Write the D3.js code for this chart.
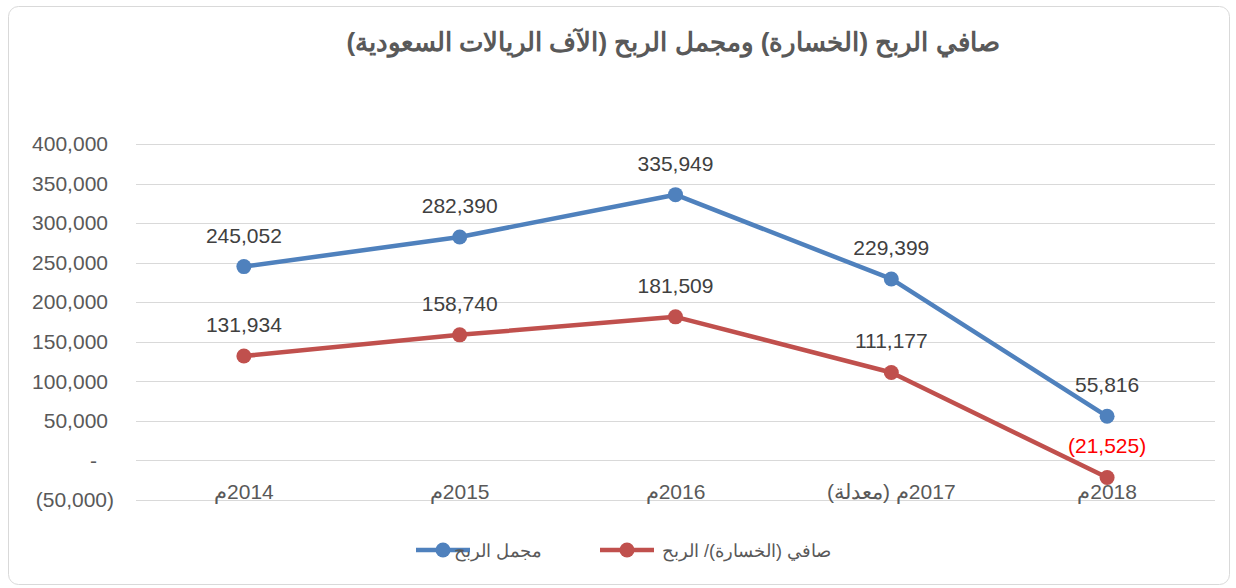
<!DOCTYPE html>
<html>
<head>
<meta charset="utf-8">
<script src="https://cdn.jsdelivr.net/npm/d3@7"></script>
<style>
  body { margin: 0; background: #fff; }
  svg { display: block; font-family: "Liberation Sans", Arial, sans-serif; }
</style>
</head>
<body>
<div id="chart"></div>
<script>
// chart data
const years = ['2014م', '2015م', '2016م', '2017م (معدلة)', '2018م'];
const grossProfit = [245052, 282390, 335949, 229399, 55816];
const netProfit = [131934, 158740, 181509, 111177, -21525];
const yTicks = [-50000, 0, 50000, 100000, 150000, 200000, 250000, 300000, 350000, 400000];
const seriesNames = ['مجمل الربح', 'صافي (الخسارة)/ الربح'];
const chartTitle = 'صافي الربح (الخسارة) ومجمل الربح (الآف الريالات السعودية)';

const W = 1236, H = 588;
const margin = { top: 144, right: 21, bottom: 88, left: 136 };
const colors = ['#4f81bd', '#c0504d'];

const svg = d3.select('#chart').append('svg')
  .attr('width', W)
  .attr('height', H);

// outer chart frame
svg.append('rect')
  .attr('x', 8.5).attr('y', 6.5)
  .attr('width', 1221).attr('height', 578)
  .attr('rx', 10)
  .attr('fill', '#fff')
  .attr('stroke', '#d9d9d9');

svg.append('text')
  .attr('x', 673).attr('y', 51)
  .attr('text-anchor', 'middle')
  .attr('direction', 'rtl')
  .style('font-size', '26px')
  .style('font-weight', 'bold')
  .attr('fill', '#595959')
  .text(chartTitle);

const x = d3.scalePoint()
  .domain(years)
  .range([margin.left, W - margin.right])
  .padding(0.5);

const y = d3.scaleLinear()
  .domain([-50000, 400000])
  .range([H - margin.bottom, margin.top]);

// accounting-style number format
const fmt = d3.format(',');
const acct = v => v === 0 ? '-' : (v < 0 ? `(${fmt(-v)})` : fmt(v));

// gridlines
svg.append('g').selectAll('line')
  .data(yTicks)
  .join('line')
    .attr('x1', margin.left).attr('x2', W - margin.right)
    .attr('y1', d => Math.round(y(d)) + 0.5)
    .attr('y2', d => Math.round(y(d)) + 0.5)
    .attr('stroke', '#d9d9d9')
    .attr('stroke-width', 1);

// y axis labels
const yAxis = d3.axisLeft(y).tickValues(yTicks).tickFormat(acct).tickSize(0).tickPadding(0);
const yG = svg.append('g')
  .attr('transform', `translate(${margin.left - 28},0)`)
  .call(yAxis);
yG.select('.domain').remove();
yG.selectAll('text')
  .attr('fill', '#595959')
  .style('font-size', '21px')
  .attr('dx', d => d < 0 ? 6 : (d === 0 ? -11 : 0));

// x axis labels
svg.append('g').selectAll('text')
  .data(years)
  .join('text')
    .attr('x', d => x(d))
    .attr('y', 499)
    .attr('text-anchor', 'middle')
    .attr('direction', 'rtl')
    .attr('fill', '#595959')
    .style('font-size', '21px')
    .text(d => d);

const series = [grossProfit, netProfit];
const line = d3.line()
  .x((d, i) => x(years[i]))
  .y(d => y(d));

series.forEach((vals, s) => {
  const g = svg.append('g');
  g.append('path')
    .datum(vals)
    .attr('d', line)
    .attr('fill', 'none')
    .attr('stroke', colors[s])
    .attr('stroke-width', 4.5)
    .attr('stroke-linejoin', 'round');
  g.selectAll('circle')
    .data(vals)
    .join('circle')
      .attr('cx', (d, i) => x(years[i]))
      .attr('cy', d => y(d))
      .attr('r', 7.5)
      .attr('fill', colors[s]);
  g.selectAll('text')
    .data(vals)
    .join('text')
      .attr('x', (d, i) => x(years[i]))
      .attr('y', d => y(d) - 24)
      .attr('text-anchor', 'middle')
      .attr('fill', d => d < 0 ? '#ff0000' : '#404040')
      .style('font-size', '21px')
      .text(d => acct(d));
});

// legend
const legend = svg.append('g');
const legendItems = [
  { name: seriesNames[0], color: colors[0], x0: 416, tx: 542 },
  { name: seriesNames[1], color: colors[1], x0: 600, tx: 831 }
];
legendItems.forEach(it => {
  legend.append('line')
    .attr('x1', it.x0).attr('x2', it.x0 + 54)
    .attr('y1', 550).attr('y2', 550)
    .attr('stroke', it.color).attr('stroke-width', 4.5);
  legend.append('circle')
    .attr('cx', it.x0 + 27).attr('cy', 550).attr('r', 7.5)
    .attr('fill', it.color);
  legend.append('text')
    .attr('x', it.tx).attr('y', 557)
    .attr('text-anchor', 'start')
    .attr('direction', 'rtl')
    .attr('fill', '#595959')
    .style('font-size', '18px')
    .text(it.name);
});
</script>
</body>
</html>
